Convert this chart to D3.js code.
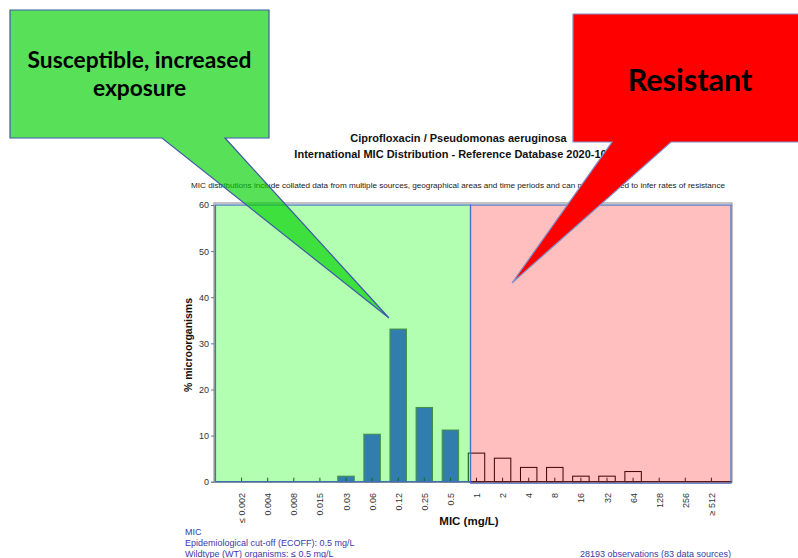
<!DOCTYPE html>
<html><head><meta charset="utf-8">
<script src="https://cdn.jsdelivr.net/npm/d3@7"></script>
<style>body{margin:0;background:#fff}svg{display:block}</style>
</head><body>
<svg id="c" width="798" height="558"></svg>
<script>
// ---- data ----
const categories = ["≤ 0.002","0.004","0.008","0.015","0.03","0.06","0.12","0.25","0.5","1","2","4","8","16","32","64","128","256","≥ 512"];
const percentages = [0,0,0,0,1.2,10.3,33.1,16.1,11.2,6.2,5.1,3.1,3.1,1.2,1.2,2.2,0,0,0];
const wildtypeCategories = ["≤ 0.002","0.004","0.008","0.015","0.03","0.06","0.12","0.25","0.5"];
const yTicks = [0,10,20,30,40,50,60];
const titleLines = ["Ciprofloxacin / Pseudomonas aeruginosa","International MIC Distribution - Reference Database 2020-10-04"];
const subtitle = "MIC distributions include collated data from multiple sources, geographical areas and time periods and can never be used to infer rates of resistance";
const footLeft = ["MIC","Epidemiological cut-off (ECOFF): 0.5 mg/L","Wildtype (WT) organisms:  ≤ 0.5 mg/L"];
const footRight = "28193 observations (83 data sources)";
const calloutS = ["Susceptible, increased","exposure"];
const calloutR = ["Resistant"];

// ---- layout ----
const svg = d3.select("#c");
const plot = {l:214, r:732, t:203, b:482};
const x = d3.scalePoint().domain(categories).range([241.6, 711.4]);
const y = d3.scaleLinear().domain([0,60]).range([481.7, 205]);
const step = x.step();
const bw = step*0.63;
const F = "'Liberation Sans', Arial, sans-serif";

// titles
svg.append("g").selectAll("text").data(titleLines).join("text")
  .attr("x",458.5).attr("y",(d,i)=>142+i*15.5).attr("text-anchor","middle")
  .attr("font-family",F).attr("font-weight","bold").attr("font-size","11px").attr("fill","#111").text(d=>d);
svg.append("text").attr("x",458).attr("y",188).attr("text-anchor","middle")
  .attr("font-family",F).attr("font-size","7.5px").attr("fill","#222")
  .attr("textLength",534).attr("lengthAdjust","spacingAndGlyphs").text(subtitle);

// plot frame
svg.append("rect").attr("x",plot.l).attr("y",plot.t).attr("width",plot.r-plot.l).attr("height",plot.b-plot.t)
  .attr("fill","#fff").attr("stroke","#9a9a9a").attr("stroke-width",1.2);

// bars
const wt = new Set(wildtypeCategories);
svg.append("g").selectAll("rect").data(categories.map((c,i)=>({c,v:percentages[i]})).filter(d=>d.v>0)).join("rect")
  .attr("x",d=>x(d.c)-bw/2).attr("y",d=>y(d.v)).attr("width",bw).attr("height",d=>y(0)-y(d.v))
  .attr("fill",d=>wt.has(d.c)?"rgb(70,70,250)":"#fff")
  .attr("stroke",d=>wt.has(d.c)?"#606060":"#000").attr("stroke-width",1);

// x axis baseline & inner ticks
svg.append("line").attr("x1",plot.l).attr("x2",plot.r).attr("y1",y(0)).attr("y2",y(0)).attr("stroke","#222").attr("stroke-width",1.2);
svg.append("g").selectAll("line").data(categories).join("line")
  .attr("x1",d=>x(d)).attr("x2",d=>x(d)).attr("y1",y(0)).attr("y2",y(0)-4).attr("stroke","#222");

// x labels
svg.append("g").selectAll("text").data(categories).join("text")
  .attr("transform",d=>`translate(${x(d)+3.5},493) rotate(-90)`).attr("text-anchor","end")
  .attr("font-family",F).attr("font-size","9px").attr("fill","#333").text(d=>d);
svg.append("text").attr("x",469).attr("y",525).attr("text-anchor","middle")
  .attr("font-family",F).attr("font-weight","bold").attr("font-size","11.5px").attr("fill","#111").text("MIC (mg/L)");

// y axis
const ya = svg.append("g").attr("transform",`translate(${plot.l},0)`)
  .call(d3.axisLeft(y).tickValues(yTicks).tickSize(3).tickPadding(2).tickFormat(d3.format("d")));
ya.select(".domain").attr("stroke","#9a9a9a");
ya.selectAll(".tick line").attr("stroke","#777");
ya.selectAll(".tick text").attr("font-family",F).attr("font-size","9px").attr("fill","#333");
svg.append("text").attr("transform","translate(192,345) rotate(-90)").attr("text-anchor","middle")
  .attr("font-family",F).attr("font-weight","bold").attr("font-size","10.5px").attr("fill","#111").text("% microorganisms");

// overlays (regions)
const boundary = x("1") - 6;
svg.append("rect").attr("x",plot.l+1.5).attr("y",y(60)).attr("width",boundary-plot.l-1.5).attr("height",y(0)-y(60))
  .attr("fill","rgba(0,255,0,0.3)").attr("stroke","#4472c4").attr("stroke-width",1.2);
svg.append("rect").attr("x",boundary).attr("y",y(60)).attr("width",plot.r-1-boundary).attr("height",y(0)-y(60)+1.5)
  .attr("fill","rgba(255,0,0,0.25)").attr("stroke","#4472c4").attr("stroke-width",1.2);

// footer
svg.append("g").selectAll("text").data(footLeft).join("text")
  .attr("x",185).attr("y",(d,i)=>534.5+i*11).attr("font-family",F).attr("font-size","9px").attr("fill","#3a3aa8").text(d=>d);
svg.append("text").attr("x",731).attr("y",556.5).attr("text-anchor","end")
  .attr("font-family",F).attr("font-size","9px").attr("fill","#3a3aa8").text(footRight);

// callouts
const CF = "Lato, 'Open Sans', sans-serif";
svg.append("path").attr("d","M10,10 H269 V138 H225 L389,318 L162,138 H10 Z")
  .attr("fill","rgb(0,208,0)").attr("fill-opacity",0.65).attr("stroke","#3f58a8").attr("stroke-width",1.2);
svg.append("g").selectAll("text").data(calloutS).join("text")
  .attr("x",139.5).attr("y",(d,i)=>68+i*28).attr("text-anchor","middle")
  .attr("font-family",CF).attr("font-weight","bold").attr("font-size","22.8px").attr("fill","#000").text(d=>d);
svg.append("path").attr("d","M573,14 H812 V142 H671 L512,283 L612,142 H573 Z")
  .attr("fill","#ff0000").attr("stroke","#7f8fc8").attr("stroke-width",1.2);
svg.append("g").selectAll("text").data(calloutR).join("text")
  .attr("x",690).attr("y",91).attr("text-anchor","middle")
  .attr("font-family",CF).attr("font-weight","bold").attr("font-size","30.5px").attr("fill","#000").text(d=>d);
</script>
</body></html>
